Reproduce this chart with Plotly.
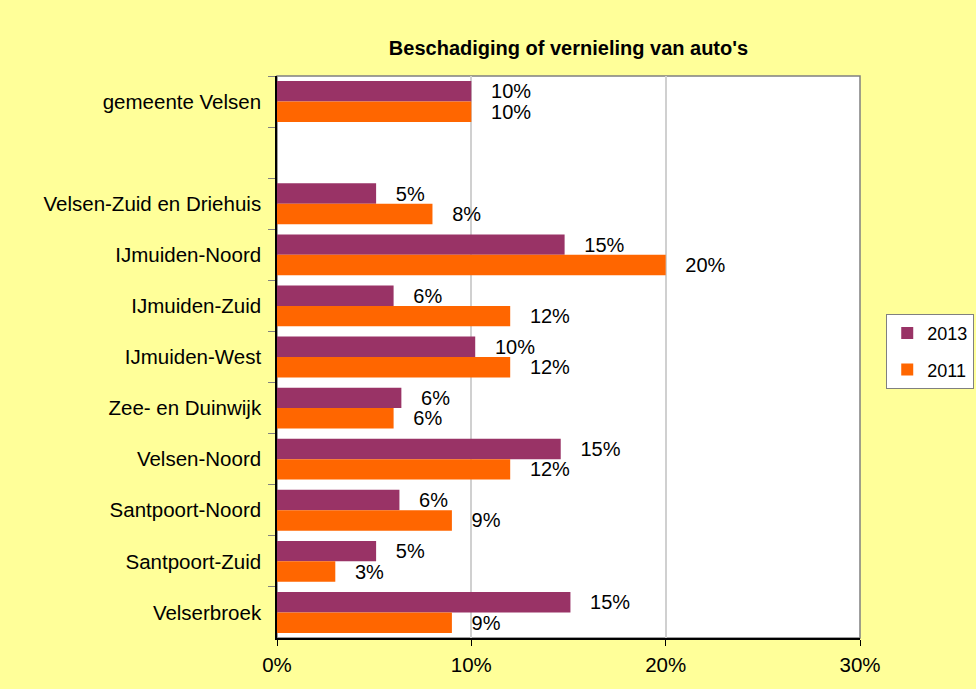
import plotly.graph_objects as go

categories = ["gemeente Velsen", " ", "Velsen-Zuid en Driehuis", "IJmuiden-Noord",
              "IJmuiden-Zuid", "IJmuiden-West", "Zee- en Duinwijk", "Velsen-Noord",
              "Santpoort-Noord", "Santpoort-Zuid", "Velserbroek"]
values_2013 = [0.100, None, 0.051, 0.148, 0.060, 0.102, 0.064, 0.146, 0.063, 0.051, 0.151]
values_2011 = [0.100, None, 0.080, 0.200, 0.120, 0.120, 0.060, 0.120, 0.090, 0.030, 0.090]
series_names = ["2013", "2011"]
colors = ["#993366", "#FF6600"]
x_ticks = [0, 0.1, 0.2, 0.3]
title = "Beschadiging of vernieling van auto's"

FONT = "Arial, Liberation Sans, sans-serif"
fig = go.Figure()
for name, vals, col in zip(series_names, [values_2013, values_2011], colors):
    fig.add_trace(go.Bar(
        y=categories, x=vals, name=name, orientation="h",
        marker=dict(color=col, line=dict(width=0)),
        texttemplate="\u00a0\u00a0\u00a0%{x:.0%}", textposition="outside",
        textfont=dict(family=FONT, size=20, color="#000000"),
        constraintext="none", cliponaxis=False, legendgroup=name,
    ))

fig.update_layout(
    width=976, height=689,
    paper_bgcolor="#FFFF99", plot_bgcolor="#FFFFFF",
    margin=dict(l=277, r=116, t=76, b=51, autoexpand=False),
    barmode="group", bargap=0.2, bargroupgap=0,
    font=dict(family=FONT, size=20, color="#000000"),
    title=dict(text="<b>" + title + "</b>", x=0.5, xref="paper", y=1 - 48 / 689,
               yanchor="middle", xanchor="center",
               font=dict(family=FONT, size=20, color="#000000")),
    legend=dict(x=1.045, xanchor="left", y=0.51, yanchor="middle",
                bgcolor="#FFFFFF", bordercolor="#808080", borderwidth=1,
                font=dict(family=FONT, size=18), tracegroupgap=10,
                traceorder="grouped"),
    xaxis=dict(range=[0, 0.3], tickvals=x_ticks, tickformat=".0%",
               showgrid=True, gridcolor="#D0D0D0", gridwidth=1.5,
               showline=True, linecolor="#000000", linewidth=1.5,
               ticks="outside", ticklen=6, tickcolor="#000000",
               ticklabelstandoff=2, zeroline=False,
               tickfont=dict(family=FONT, size=20.5)),
    yaxis=dict(autorange="reversed", type="category",
               showline=True, linecolor="#000000", linewidth=1.5,
               ticks="outside", ticklen=7, tickcolor="#808080",
               tickson="boundaries", ticklabelstandoff=10, showgrid=False,
               tickfont=dict(family=FONT, size=20.5)),
    shapes=[dict(type="rect", xref="paper", yref="paper", x0=0, x1=1, y0=0, y1=1,
                 line=dict(color="#808080", width=1.5), layer="below")],
)

fig.write_html("out.html", config={"displayModeBar": False},
               post_script="document.body.style.margin='0';document.body.style.overflow='hidden';")
